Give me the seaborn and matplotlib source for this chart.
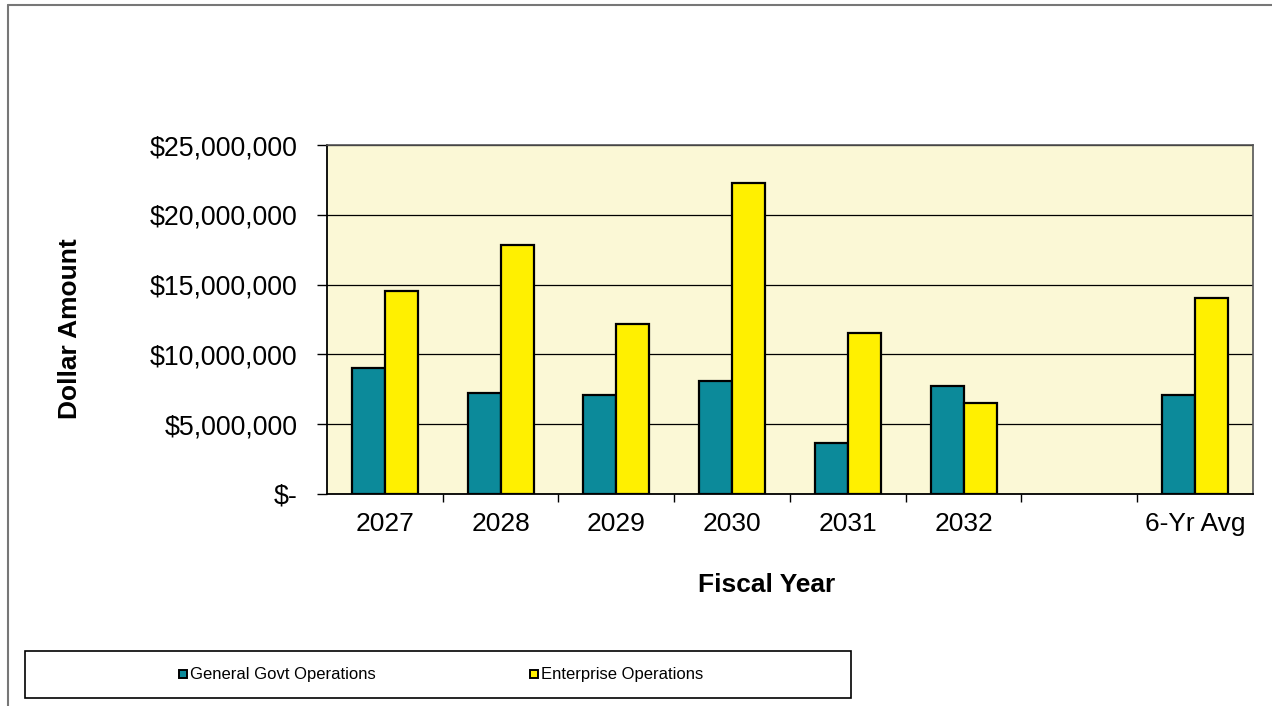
import numpy as np
import pandas as pd
import seaborn as sns
from matplotlib import pyplot as plt
from matplotlib.patches import Rectangle
from matplotlib.lines import Line2D
from matplotlib.ticker import FuncFormatter, FixedLocator

# data
categories = ["2027", "2028", "2029", "2030", "2031", "2032", "", "6-Yr Avg"]
general_govt = [9.02, 7.25, 7.06, 8.13, 3.63, 7.74, None, 7.09]     # $ millions
enterprise = [14.52, 17.82, 12.2, 22.3, 11.5, 6.5, None, 14.06]     # $ millions
series_names = ["General Govt Operations", "Enterprise Operations"]
yticks = [0, 5, 10, 15, 20, 25]

teal = "#0c8a9a"
yellow = "#fff000"

rows = []
for cat, g, e in zip(categories, general_govt, enterprise):
    if g is not None:
        rows.append({"year": cat, "series": series_names[0], "amount": g * 1e6})
        rows.append({"year": cat, "series": series_names[1], "amount": e * 1e6})
df = pd.DataFrame(rows)

sns.set_style("white")
plt.rcParams['font.family'] = ['Liberation Sans', 'DejaVu Sans']
plt.rcParams['text.color'] = 'black'
plt.rcParams['axes.labelcolor'] = 'black'
plt.rcParams['xtick.color'] = 'black'
plt.rcParams['ytick.color'] = 'black'

fig = plt.figure(figsize=(12.72, 7.06), dpi=100)
ax = fig.add_axes([0.257, 0.3003, 0.728, 0.4943])
ax.set_facecolor("#fbf8d6")

sns.barplot(data=df, x="year", y="amount", hue="series", order=categories,
            hue_order=series_names, palette=[teal, yellow], width=0.57,
            saturation=1, edgecolor="black", linewidth=1.6, ax=ax,
            legend=False, zorder=3)

ax.set_xlim(-0.5, len(categories) - 0.5)
ax.set_ylim(0, 25e6)
ax.set_yticks([v * 1e6 for v in yticks])
ax.yaxis.set_major_formatter(FuncFormatter(
    lambda v, p: "$-" if v == 0 else "${:,.0f}".format(v)))
ax.yaxis.grid(True, color="black", linewidth=0.9)
ax.set_axisbelow(True)

# ticks between categories
ax.xaxis.set_minor_locator(FixedLocator(np.arange(0.5, len(categories) - 1, 1)))
ax.tick_params(axis="x", which="major", bottom=True, length=0, pad=13, labelsize=19)
ax.tick_params(axis="x", which="minor", bottom=True, length=6, width=1, direction="out")
ax.tick_params(axis="y", left=True, length=7, width=1, direction="out", pad=14, labelsize=19.3)

for side in ["left", "bottom"]:
    ax.spines[side].set_color("black")
    ax.spines[side].set_linewidth(1.3)
for side in ["top", "right"]:
    ax.spines[side].set_color("#555555")
    ax.spines[side].set_linewidth(1.2)

ax.set_xlabel("Fiscal Year", fontsize=19, fontweight="bold")
ax.set_ylabel("Dollar Amount", fontsize=19, fontweight="bold")
ax.xaxis.set_label_coords(0.475, -0.226)
ax.yaxis.set_label_coords(-0.265, 0.473)

# legend box
fig.patches.append(Rectangle((25 / 1272, 1 - 698 / 706), 826 / 1272, 47 / 706,
                             transform=fig.transFigure, fill=False,
                             edgecolor="black", linewidth=1.2))
handles = [Line2D([], [], marker="s", linestyle="", markersize=6,
                  markerfacecolor=c, markeredgecolor="black", markeredgewidth=1.4)
           for c in [teal, yellow]]
fig.legend(handles, series_names, loc="center", bbox_to_anchor=(441 / 1272, 1 - 675 / 706),
           ncol=2, frameon=False, fontsize=12, handlelength=0.5, handletextpad=0.15,
           columnspacing=9.3)

# page border lines
fig.add_artist(Line2D([8 / 1272, 1], [1 - 5 / 706, 1 - 5 / 706], transform=fig.transFigure,
                      color="#777777", linewidth=1.5))
fig.add_artist(Line2D([8 / 1272, 8 / 1272], [0, 1 - 5 / 706], transform=fig.transFigure,
                      color="#777777", linewidth=1.5))

fig.savefig("out.png", dpi=100)
